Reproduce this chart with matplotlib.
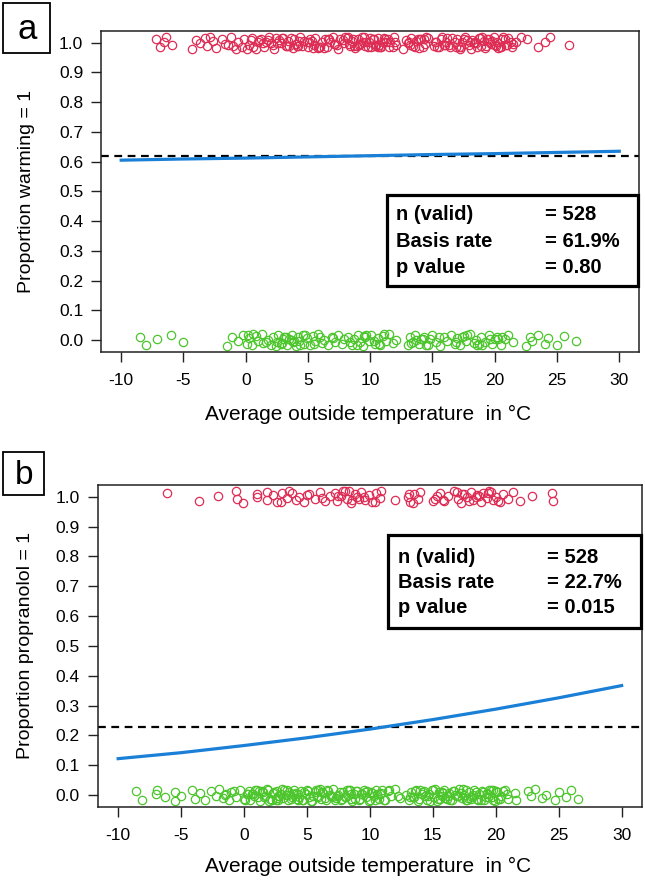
import numpy as np
import matplotlib
matplotlib.use("Agg")
import matplotlib.pyplot as plt
from matplotlib.patches import Rectangle

plt.rcParams['font.family'] = ['Liberation Sans', 'DejaVu Sans']
plt.rcParams['axes.unicode_minus'] = False

# ---- data ----
x_ticks = [-10, -5, 0, 5, 10, 15, 20, 25, 30]
y_ticks = [0.0, 0.1, 0.2, 0.3, 0.4, 0.5, 0.6, 0.7, 0.8, 0.9, 1.0]

# fitted curves (read at the x tick positions)
curve_x = [-10, -5, 0, 5, 10, 15, 20, 25, 30]
curve_a = [0.605, 0.609, 0.612, 0.616, 0.620, 0.624, 0.627, 0.631, 0.635]
curve_b = [0.122, 0.142, 0.166, 0.192, 0.221, 0.253, 0.288, 0.326, 0.367]

base_a = 0.619
base_b = 0.227

# temperatures of the cases (outcome = 1 and outcome = 0)
warm_1 = [-7.2, -6.9, -6.6, -6.4, -5.9, -4.3, -4.0, -3.7, -3.3, -3.1, -2.6, -2.4,
          -1.9, -1.7, -1.2, -1.0, -0.6, -0.3, -0.1, 0.3, 0.5, 0.6, 1.0, 1.2, 1.5,
          1.6, 1.9, 2.2, 2.3, 2.7, 2.8, 3.0, 3.3, 3.4, 3.8, 3.9, 4.0, 4.4, 4.5,
          4.9, 5.0, 5.2, 5.5, 5.6, 5.9, 6.1, 6.4, 6.5, 6.8, 7.0, 7.3, 7.4, 7.8,
          7.9, 8.1, 8.4, 8.5, 8.8, 9.0, 9.2, 9.5, 9.6, 9.9, 10.1, 10.2, 10.5,
          10.6, 10.9, 11.0, 11.2, 11.5, 11.6, 11.9, 12.1, 12.6, 12.9, 13.0, 13.3,
          13.4, 13.7, 13.9, 14.1, 14.4, 14.5, 15.1, 15.2, 15.5, 15.7, 15.9, 16.2,
          16.4, 16.8, 17.0, 17.1, 17.4, 17.6, 17.9, 18.1, 18.2, 18.5, 18.7, 18.9,
          19.1, 19.2, 19.5, 19.7, 19.9, 20.1, 20.2, 20.5, 20.6, 20.9, 21.1, 21.4,
          21.7, 22.6, 23.5, 24.0, 24.4, 26.0,
          0.8, 1.8, 2.5, 3.6, 4.2, 5.3, 6.3, 7.6, 8.3, 9.3, 10.4, 11.3, 13.6,
          14.3, 16.0, 16.6, 17.3, 18.4, 19.4, 20.4, 21.3,
          -2.9, -1.4, 0.1, 1.1, 2.0, 2.9, 3.5, 4.7, 5.8, 6.7, 7.1, 8.0, 8.7, 9.4,
          9.8, 10.3, 10.7, 11.1, 11.8, 13.1, 13.8, 14.2, 15.3, 15.8, 16.3, 17.2,
          17.8, 18.3, 18.8, 19.3, 19.8, 20.3, 20.8, 21.5, 22.1,
          4.1, 5.1, 6.0, 8.6, 9.1, 10.0, 10.8, 12.0, 14.0, 16.9, 18.0, 19.0, 20.0,
          -0.8, 0.4, 1.4, 2.4, 3.2, 4.3, 5.4, 6.6, 7.2, 8.2, 8.9, 9.7, 10.6,
          11.4, 13.2, 14.6, 15.4, 16.1, 17.5, 18.6, 19.6, 20.7, 21.0]
warm_0 = [-8.5, -8.0, -7.1, -6.0, -5.0, -1.5, -1.1, -0.6, -0.2, 0.1, 0.3, 0.5,
          0.8, 1.0, 1.3, 1.4, 1.8, 2.0, 2.2, 2.5, 2.6, 2.8, 3.0, 3.1, 3.3, 3.5,
          3.7, 3.8, 4.0, 4.2, 4.3, 4.6, 4.7, 4.9, 5.2, 5.4, 5.6, 5.8, 6.1, 6.3,
          6.6, 6.9, 7.2, 7.4, 7.7, 7.9, 8.2, 8.5, 8.7, 9.0, 9.2, 9.4, 9.6, 9.9,
          10.1, 10.4, 10.6, 10.8, 11.0, 11.3, 11.5, 11.8, 12.1, 13.0, 13.2, 13.4,
          13.6, 13.9, 14.1, 14.3, 14.5, 14.8, 15.0, 15.3, 15.6, 15.9, 16.2, 16.5,
          16.8, 17.0, 17.2, 17.5, 17.7, 18.0, 18.3, 18.5, 18.6, 18.9, 19.2, 19.5,
          19.8, 20.0, 20.2, 20.5, 20.8, 21.1, 21.5, 22.5, 22.8, 23.0, 23.5, 24.0,
          24.3, 25.0, 25.6, 26.5,
          0.6, 2.9, 3.6, 4.4, 6.0, 8.4, 9.7, 10.7, 14.2, 17.4, 19.0, 20.3,
          0.2, 1.6, 2.4, 3.2, 3.9, 4.8, 5.5, 7.0, 8.9, 9.5, 10.3, 11.1, 13.3,
          13.7, 14.6, 15.5, 16.9, 17.8, 18.7, 19.6, 20.6]

prop_1 = [-6.1, -3.6, -2.1, -0.6, -0.55, -0.1, 1.0, 1.05, 1.8, 1.85, 2.3, 2.6,
          3.0, 3.4, 3.6, 4.1, 4.4, 4.8, 5.2, 5.6, 6.0, 6.4, 6.8, 7.2, 7.4, 7.7,
          8.0, 8.2, 8.5, 8.8, 9.0, 9.3, 9.6, 9.9, 10.2, 10.5, 10.8, 10.85, 12.0,
          13.0, 13.2, 13.5, 13.8, 14.0, 15.0, 15.3, 15.6, 15.9, 16.2, 16.7, 17.0,
          17.2, 17.5, 17.7, 18.0, 18.2, 18.5, 18.8, 19.0, 19.3, 19.5, 19.8, 20.0,
          20.3, 20.6, 21.0, 21.4, 21.9, 22.9, 24.5, 24.55,
          7.5, 8.3, 9.1, 13.4, 17.3, 18.4, 19.6, 15.8, 5.0, 2.9,
          3.8, 6.2, 7.9, 8.6, 9.5, 10.4, 13.1, 15.2, 16.9, 17.9, 18.7, 19.4, 20.2]
prop_0 = [-8.6, -8.1, -7.0, -6.95, -6.3, -5.5, -5.45, -5.0, -4.1, -3.9, -3.5,
          -3.1, -2.6, -2.2, -2.0, -1.7, -1.5, -1.2, -1.0, -0.6, -0.3, 0.0, 0.2,
          0.4, 0.5, 0.7, 0.9, 1.1, 1.3, 1.5, 1.7, 1.9, 2.1, 2.3, 2.5, 2.6, 2.8,
          3.0, 3.1, 3.3, 3.5, 3.6, 3.8, 4.0, 4.2, 4.3, 4.5, 4.7, 4.9, 5.0, 5.2,
          5.4, 5.6, 5.8, 5.9, 6.1, 6.3, 6.5, 6.7, 6.9, 7.1, 7.3, 7.5, 7.7, 7.9,
          8.1, 8.3, 8.5, 8.7, 8.9, 9.1, 9.3, 9.5, 9.7, 9.9, 10.1, 10.3, 10.5,
          10.7, 10.9, 11.1, 11.4, 11.7, 12.0, 12.4, 12.9, 13.1, 13.3, 13.5, 13.7,
          13.9, 14.1, 14.3, 14.5, 14.7, 14.9, 15.1, 15.3, 15.5, 15.7, 15.9, 16.1,
          16.3, 16.5, 16.7, 16.9, 17.1, 17.3, 17.5, 17.7, 17.9, 18.1, 18.3, 18.5,
          18.7, 18.9, 19.1, 19.3, 19.5, 19.7, 19.9, 20.1, 20.4, 20.7, 21.0, 21.5,
          21.6, 22.6, 22.8, 23.1, 23.7, 24.0, 24.7, 25.0, 25.6, 26.0, 26.5,
          0.3, 1.2, 2.2, 2.9, 3.4, 4.4, 5.3, 6.2, 7.4, 8.2, 9.2, 10.2, 11.2,
          13.6, 14.4, 15.2, 16.0, 16.8, 17.6, 18.4, 19.2, 19.6, 20.2,
          -1.4, -0.8, 0.1, 0.6, 1.0, 1.6, 2.0, 2.4, 2.7, 3.2, 3.7, 4.1, 4.6, 5.1,
          5.5, 6.0, 6.4, 6.8, 7.2, 7.6, 8.0, 8.4, 8.8, 9.4, 9.8, 10.4, 10.8,
          11.5, 13.2, 13.8, 14.2, 14.6, 15.0, 15.4, 15.8, 16.4, 16.6, 17.0, 17.4,
          17.8, 18.2, 18.6, 19.0, 19.4, 19.8, 20.3, 20.9,
          1.4, 2.7, 3.9, 5.7, 7.0, 8.6, 9.6, 12.2, 14.0, 15.6, 17.2, 18.8, 20.0,
          0.8, 1.8, 2.6, 3.5, 4.3, 4.8, 5.9, 6.6, 7.8, 8.5, 9.0, 10.0, 10.6,
          11.0, 13.4, 14.8, 15.7, 16.2, 17.6, 18.0, 19.3, 19.8, 20.6]

# vertical jitter of the points around 0 / 1
jitter = [0.012, -0.015, 0.003, 0.018, -0.007, -0.02, 0.009, -0.002, 0.016,
          -0.012, 0.006, -0.018, 0.014, -0.004, 0.02, -0.01, 0.001, -0.016,
          0.011, -0.008, 0.017, -0.013, 0.004]

stats_a = [("n (valid)", "= 528"), ("Basis rate", "= 61.9%"), ("p value", "= 0.80")]
stats_b = [("n (valid)", "= 528"), ("Basis rate", "= 22.7%"), ("p value", "= 0.015")]

RED = '#de2d55'
GREEN = '#4cc62c'
BLUE = '#1a7fd6'


def jit(xs, level):
    return level + np.resize(np.array(jitter), len(xs))


def panel(ax, ones, zeros, cx, cy, base, ylabel, stats, box_rect, rows, cols):
    ax.plot(ones, jit(ones, 1.0), 'o', ms=6, mfc='none', mec=RED, mew=0.9)
    ax.plot(zeros, jit(zeros, 0.0), 'o', ms=6, mfc='none', mec=GREEN, mew=0.9)
    ax.axhline(base, color='black', lw=1.6, ls=(0, (3.5, 2.5)))
    ax.plot(cx, cy, color=BLUE, lw=2.3)

    ax.set_xlim(-11.6, 31.6)
    ax.set_ylim(-0.04, 1.04)
    ax.set_xticks(x_ticks)
    ax.set_yticks(y_ticks)
    ax.set_yticklabels(['%.1f' % v for v in y_ticks])
    ax.tick_params(direction='out', length=7, width=1.0, labelsize=12.5,
                   color='#222222', labelcolor='black')
    ax.tick_params(axis='x', pad=8)
    ax.tick_params(axis='y', pad=6)
    for s in ax.spines.values():
        s.set_linewidth(1.1)
        s.set_color('#222222')

    ax.set_ylabel(ylabel, fontsize=14)
    ax.set_xlabel('Average outside temperature  in °C', fontsize=15)
    ax.xaxis.label.set_va('center')
    ax.yaxis.label.set_va('center')

    x0, y0, w, h = box_rect
    ax.add_patch(Rectangle((x0, y0), w, h, transform=ax.transAxes, fill=True,
                           fc='white', ec='black', lw=2.3, zorder=5, clip_on=False))
    for (lab, val), yy in zip(stats, rows):
        ax.text(cols[0], yy, lab, transform=ax.transAxes, fontsize=14.5, fontweight='bold',
                va='center', zorder=6)
        ax.text(cols[1], yy, val, transform=ax.transAxes, fontsize=14.5, fontweight='bold',
                va='center', zorder=6)


fig = plt.figure(figsize=(6.45, 8.8), dpi=100)
ax_a = fig.add_axes([0.157, 0.600, 0.834, 0.365])
ax_b = fig.add_axes([0.152, 0.083, 0.843, 0.366])

panel(ax_a, warm_1, warm_0, curve_x, curve_a, base_a, 'Proportion warming = 1', stats_a,
      (0.532, 0.206, 0.466, 0.283), [0.427, 0.343, 0.262], [0.548, 0.825])
panel(ax_b, prop_1, prop_0, curve_x, curve_b, base_b, 'Proportion propranolol = 1', stats_b,
      (0.533, 0.556, 0.465, 0.289), [0.776, 0.696, 0.618], [0.551, 0.825])

ax_a.yaxis.set_label_coords(-0.139, 0.5)
ax_b.yaxis.set_label_coords(-0.134, 0.5)
ax_a.xaxis.set_label_coords(0.496, -0.196)
ax_b.xaxis.set_label_coords(0.496, -0.186)

# panel letters in boxes
for (bx, by, bw, bh), letter, fs in [((0.005, 0.9398, 0.0729, 0.0568), 'a', 25),
                                     ((0.005, 0.4375, 0.0636, 0.0489), 'b', 24)]:
    fig.patches.append(Rectangle((bx, by), bw, bh, transform=fig.transFigure,
                                 fill=False, ec='black', lw=1.3))
    fig.text(bx + bw / 2, by + bh / 2 - 0.002, letter, fontsize=fs, ha='center', va='center')

fig.savefig('out.png', dpi=100)
